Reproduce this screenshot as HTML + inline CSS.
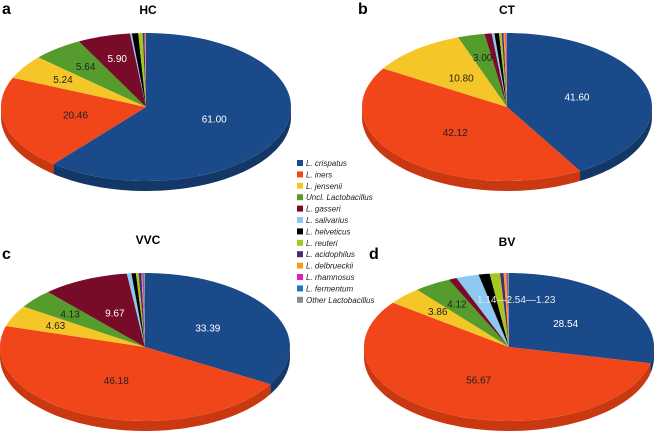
<!DOCTYPE html>
<html><head><meta charset="utf-8"><style>
body{margin:0;background:#fff;width:656px;height:436px;overflow:hidden}
svg{display:block;font-family:"Liberation Sans",sans-serif}
</style></head><body>
<svg id="c" width="656" height="436" viewBox="0 0 656 436"></svg>
<script>
const species=["L. crispatus","L. iners","L. jensenii","Uncl. Lactobacillus","L. gasseri","L. salivarius","L. helveticus","L. reuteri","L. acidophilus","L. delbrueckii","L. rhamnosus","L. fermentum","Other Lactobacillus"];
const colors=["#1b4a8a","#f0461a","#f5c628","#559c2c","#780c28","#8cc8f0","#000000","#a6c81e","#4a2a78","#f59c20","#e01ec0","#1a78c0","#8a8a8a"];
const sides=["#133766","#c93810","#c9a010","#3f7a1e","#56081c","#6aa4cc","#000000","#849f14","#361e58","#c87a10","#b0149a","#125c96","#666666"];
const groups=["HC","CT","VVC","BV"];
const valuesHC=[61.00,20.46,5.24,5.64,5.90,0.2,0.7,0.5,0.2,0.06,0.04,0.03,0.03];
const valuesCT=[41.60,42.12,10.80,3.00,0.8,0.3,0.5,0.3,0.2,0.2,0.1,0.05,0.03];
const valuesVVC=[33.39,46.18,4.63,4.13,9.67,0.5,0.5,0.3,0.3,0.1,0.1,0.1,0.1];
const valuesBV=[28.54,56.67,3.86,4.12,0.9,2.54,1.23,1.14,0.4,0.3,0.1,0.1,0.09];
const labelsHC=["61.00","20.46","5.24","5.64","5.90"];
const labelsCT=["41.60","42.12","10.80","3.00"];
const labelsVVC=["33.39","46.18","4.63","4.13","9.67"];
const labelsBV=["28.54","56.67","3.86","4.12"];
const NS="http://www.w3.org/2000/svg";
const svg=document.getElementById('c');
function mk(t,a,p){const e=document.createElementNS(NS,t);for(const k in a)e.setAttribute(k,a[k]);(p||svg).appendChild(e);return e;}
const panels=[
 {vals:valuesHC,labs:labelsHC,cx:146,cy:107,letter:"a",lx:2,ly:14,tx:148,ty:14},
 {vals:valuesCT,labs:labelsCT,cx:507,cy:107,letter:"b",lx:358,ly:14,tx:507,ty:14},
 {vals:valuesVVC,labs:labelsVVC,cx:145,cy:347,letter:"c",lx:2,ly:259,tx:148,ty:244},
 {vals:valuesBV,labs:labelsBV,cx:509,cy:347,letter:"d",lx:369,ly:259,tx:507,ty:246}];
const RX=145,RY=74,D=10;
function pt(cx,cy,a,r){return [cx+RX*r*Math.cos(a),cy+RY*r*Math.sin(a)];}
panels.forEach((p,pi)=>{
 const g=mk('g',{});
 
 
 const tot=p.vals.reduce((s,v)=>s+v,0);
 let a=-Math.PI/2;const arcs=[];
 p.vals.forEach((v,i)=>{const b=a+v/tot*2*Math.PI;arcs.push([a,b]);a=b;});
 arcs.forEach(([a0,a1],i)=>{
  [0,2*Math.PI].forEach(off=>{
   const s=Math.max(a0,off),e=Math.min(a1,off+Math.PI);
   if(e<=s)return;
   const n=Math.max(2,Math.ceil((e-s)*30));let d="";
   for(let k=0;k<=n;k++){const t=s+(e-s)*k/n;const q=pt(p.cx,p.cy,t,1);d+=(k?"L":"M")+q[0].toFixed(1)+","+q[1].toFixed(1);}
   for(let k=n;k>=0;k--){const t=s+(e-s)*k/n;const q=pt(p.cx,p.cy,t,1);d+="L"+q[0].toFixed(1)+","+(q[1]+D).toFixed(1);}
   const el=mk('path',{d:d+"Z",fill:sides[i]},g);
   
   
  });
 });
 arcs.forEach(([a0,a1],i)=>{
  const n=Math.max(2,Math.ceil((a1-a0)*30));let d="M"+p.cx+","+p.cy;
  for(let k=0;k<=n;k++){const t=a0+(a1-a0)*k/n;const q=pt(p.cx,p.cy,t,1);d+="L"+q[0].toFixed(1)+","+q[1].toFixed(1);}
  const el=mk('path',{d:d+"Z",fill:colors[i]},g);
  
  
 });
 p.labs.forEach((l,i)=>{
  if(!l)return;const [a0,a1]=arcs[i];const m=(a0+a1)/2;
  const r=(a1-a0)>0.5?0.5:0.68;const q=pt(p.cx,p.cy,m,r);
  const t=mk('text',{x:q[0],y:q[1]+3,'text-anchor':'middle','font-size':10,fill:(i==0||(i==4&&parseFloat(l)>5))?"#fff":"#222"},g);
  t.textContent=l;
  
  
 });
 const L=mk('text',{x:p.lx,y:p.ly,'font-size':16,'font-weight':'bold'});L.textContent=p.letter;
 
 
 const T=mk('text',{x:p.tx,y:p.ty,'font-size':12,'font-weight':'bold','text-anchor':'middle'});T.textContent=groups[pi];
 
 
});
const sm=mk('text',{x:477,y:303,'font-size':10,fill:'#e8e8e8'});
sm.textContent="1.14—2.54—1.23";


const lg=mk('g',{});


species.forEach((s,i)=>{
 const y=163+i*11.4;
 const r=mk('rect',{x:297,y:y-3,width:6,height:6,fill:colors[i]},lg);
 
 
 const t=mk('text',{x:306,y:y+3,'font-size':8,'font-style':'italic',fill:'#222'},lg);
 t.textContent=s;
 
 
});
</script>
</body></html>
